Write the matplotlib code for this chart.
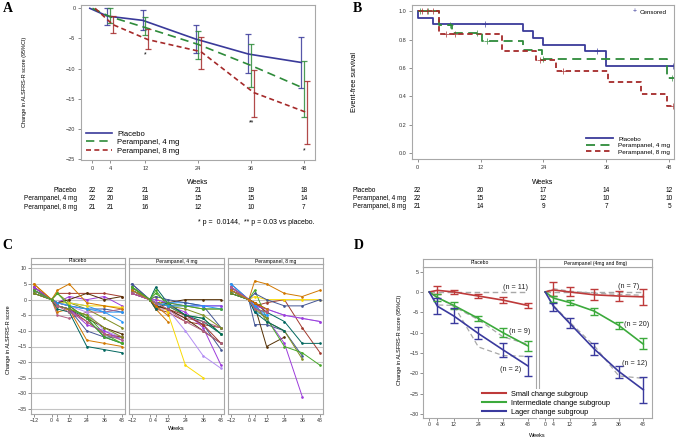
import numpy as np
import matplotlib
matplotlib.use('Agg')
import matplotlib.pyplot as plt
from matplotlib.lines import Line2D
from matplotlib.transforms import blended_transform_factory

plt.rcParams['font.family'] = ['Liberation Sans', 'DejaVu Sans']

W, H = 676, 441
nan = np.nan

# ---------------- Panel A: mean change with 95% CI ----------------
weeks_a = [0, 4, 12, 24, 36, 48]
pbo_mean = [0, -1.3, -2.0, -5.1, -7.6, -9.0]
pbo_hi = [0, 0.0, -0.3, -2.8, -4.3, -4.8]
pbo_lo = [0, -2.7, -3.6, -7.4, -10.8, -13.2]
mg4_mean = [0, -1.4, -3.2, -6.0, -9.5, -13.3]
mg4_hi = [0, 0.0, -1.5, -3.7, -6.0, -8.8]
mg4_lo = [0, -2.5, -4.5, -8.5, -13.1, -18.0]
mg8_mean = [0, -2.7, -5.2, -7.2, -14.0, -17.3]
mg8_hi = [0, -1.3, -3.5, -4.7, -10.2, -12.1]
mg8_lo = [0, -4.1, -6.8, -10.1, -18.1, -22.6]

stars_a = [(12, -7.7, '*'), (36, -19.1, '**'), (48, -23.7, '*')]

risk_weeks_a = [0, 4, 12, 24, 36, 48]
risk_pbo_a = [22, 22, 21, 21, 19, 18]
risk_4mg_a = [22, 20, 18, 15, 15, 14]
risk_8mg_a = [21, 21, 16, 12, 10, 7]

# ---------------- Panel B: Kaplan-Meier ----------------
km_pbo_t = [0, 0, 3, 20, 22, 24, 32, 36, 49]
km_pbo_s = [1.0, 0.955, 0.909, 0.864, 0.814, 0.764, 0.717, 0.614, 0.614]
km_4mg_t = [0, 4, 6.5, 12.2, 20, 23.7, 47.6, 49]
km_4mg_s = [1.0, 0.9, 0.85, 0.79, 0.73, 0.667, 0.533, 0.533]
km_8mg_t = [0, 4, 16, 22.6, 26.3, 36.3, 42.7, 47.6, 49]
km_8mg_s = [1.0, 0.84, 0.72, 0.655, 0.58, 0.5, 0.415, 0.333, 0.333]

cens_pbo = [(12.9, 0.909), (34.3, 0.717), (48.7, 0.614)]
cens_4mg = [(0.5, 1.0), (2.0, 1.0), (6.2, 0.9), (11.3, 0.85), (13.2, 0.79), (24.0, 0.667), (48.5, 0.533)]
cens_8mg = [(0.8, 1.0), (1.7, 1.0), (3.0, 1.0), (5.4, 0.84), (7.1, 0.84), (23.3, 0.655), (27.8, 0.58), (48.7, 0.333)]

risk_weeks_b = [0, 12, 24, 36, 48]
risk_pbo_b = [22, 20, 17, 14, 12]
risk_4mg_b = [22, 15, 12, 10, 10]
risk_8mg_b = [21, 14, 9, 7, 5]

# ---------------- Panel C: individual patients ----------------
weeks_c = [-12, 0, 4, 12, 24, 36, 48]
indiv_pbo = [
    [4, 0, -1, -2, -3, -3, -4],
    [3, 0, 2, 2, 2, 2, 1],
    [3, 0, -2, -3, -6, -12, -14],
    [2, 0, -1, -2, -6, -9, -11],
    [4, 0, -1, 1, 0, 1, -2],
    [3, 0, 2, -1, -3, -6, -9],
    [3, 0, -1, -1, -2, -4, -4],
    [2, 0, -5, -6, -4, -4, -3],
    [5, 0, -4, -3, -13, -14, -15],
    [3, 0, -2, -3, -5, -11, -14],
    [2, 0, -1, -2, -4, -10, -12],
    [2, 0, -1, -1, -2, -2, -2.5],
    [3, 0, -2, -3, -10, -12, -12],
    [4, 0, -2, -3, -7, -11, -12],
    [2, 0, -3, -4, -15, -16, -17],
    [3, 0, -1, 0, 2, 0, 1],
    [4, 0, -2, -3, -8, -10, -13],
    [2, 0, -2, -3, -5, -9, -12],
    [3, 0, -1, -2, -3, -4, -7],
    [3, 0, -2, -4, -7, -11, -13],
    [5, 0, 3, 5, -1, -2, -3],
    [3, 0, 2, -2, -6, -12, -14],
]
indiv_4mg = [
    [5, 0, -1, -2, -5, -8, -16],
    [3, 0, -3, -4, -7, -8, -9],
    [4, 0, 4, -1, -5, -7, -11],
    [2, 0, -1, -1, 0, 0, 0],
    [3, 0, -1, -2, -4, -9, -21],
    [4, 0, -1, -2, -2, -3, -3],
    [4, 0, -2, -1, -1, -2, -2],
    [2, 0, -3, -3, -6, -7, -9],
    [3, 0, -3, -7, nan, nan, nan],
    [4, 0, 3, -2, -5, -6, -11],
    [2, 0, -1, -3, -10, -18, -22],
    [3, 0, 1, -4, -21, -25, nan],
    [5, 0, 1, 0, -1, -2, -9],
    [2, 0, -2, -3, -5, -8, -14],
    [3, 0, -3, -1, -5, -6, -11],
    [3, 0, -2, -3, -6, -10, -14],
    [2, 0, 0, -1, -2, -2, -2],
    [4, 0, -1, -2, -3, -5, -9],
    [3, 0, -1, -2, -2, -2, -3],
    [2, 0, -1, -3, -7, -10, -14],
    [3, 0, -2, -5, nan, nan, nan],
    [4, 0, 2, -1, -2, -3, -3],
]
indiv_8mg = [
    [5, 0, -8, -8, -10, -18, nan],
    [4, 0, -2, -1, 0, -9, -17],
    [2, 0, -3, -4, -7, -14, -14],
    [3, 0, -2, -15, -12, nan, nan],
    [4, 0, -2, -6, -14, -31, nan],
    [3, 0, -1, -7, -10, -19, nan],
    [5, 0, -4, -5, nan, nan, nan],
    [3, 0, -1, -4, nan, nan, nan],
    [3, 0, 6, 5, 2, 1, 3],
    [2, 0, 3, -6, -15, -17, -21],
    [4, 0, -2, -3, -5, -6, -7],
    [3, 0, 1, 0, 0, 0, 0],
    [4, 0, 2, 0, -2, -2, 0],
    [3, 0, -1, -4, nan, nan, nan],
    [2, 0, -4, -7, -10, nan, nan],
    [3, 0, -1, -3, nan, nan, nan],
    [4, 0, -2, -3, -5, -6, -7],
    [2, 0, -3, -6, nan, nan, nan],
    [3, 0, -2, -5, nan, nan, nan],
    [4, 0, -3, -4, nan, nan, nan],
    [3, 0, -1, -3, nan, nan, nan],
]
c_titles = ['Placebo', 'Perampanel, 4 mg', 'Perampanel, 8 mg']
sas_colors = ['#445694', '#A23A2E', '#01665E', '#543005', '#9D3CDB', '#7F8E1F',
              '#2597FA', '#B26084', '#D17800', '#47A82A', '#B38EF3', '#F9DA04']

# ---------------- Panel D: subgroups ----------------
weeks_d = [0, 4, 12, 24, 36, 48]
d_titles = ['Placebo', 'Perampanel (4mg and 8mg)']
# Placebo facet
dp_small = [0, 0.4, 0.0, -1.0, -2.0, -3.3]
dp_small_hi = [0, 1.5, 0.6, -0.5, -1.35, -2.6]
dp_small_lo = [0, -0.6, -0.5, -1.6, -2.65, -4.0]
dp_mid = [0, -1.4, -3.3, -6.5, -10.0, -13.2]
dp_mid_hi = [0, -0.6, -2.4, -5.8, -8.9, -12.0]
dp_mid_lo = [0, -2.2, -4.2, -7.2, -11.0, -14.5]
dp_big = [0, -3.5, -5.9, -10.2, -14.2, -18.1]
dp_big_hi = [0, -1.4, -4.0, -8.7, -12.5, -15.7]
dp_big_lo = [0, -5.5, -7.7, -11.6, -15.9, -20.6]
dp_obs_mid = [0, -1.2, -3.6, -6.8, -11.0, -12.8]
dp_obs_big = [0, -3.2, -3.3, -13.5, -15.6, -15.8]
# Perampanel facet
dq_small = [0, 0.5, 0.0, -0.7, -1.0, -1.2]
dq_small_hi = [0, 2.5, 1.1, 0.7, 0.2, 0.7]
dq_small_lo = [0, -0.9, -1.0, -2.0, -2.2, -3.2]
dq_mid = [0, -1.5, -2.6, -4.7, -8.2, -12.8]
dq_mid_hi = [0, -0.9, -2.0, -3.9, -7.3, -11.2]
dq_mid_lo = [0, -2.4, -3.1, -5.7, -9.1, -13.9]
dq_big = [0, -3.5, -7.7, -14.0, -19.5, -24.0]
dq_big_hi = [0, -2.6, -6.5, -12.6, -18.1, -20.8]
dq_big_lo = [0, -4.6, -8.9, -15.5, -21.0, -27.3]
dq_obs_small = [0, 0.8, 0.2, -0.3, -0.6, -0.8]
dq_obs_big = [0, -3.3, -7.4, -13.2, -20.6, -21.2]
n_labels = [[(42, 1.2, '(n = 11)'), (43.9, -9.6, '(n = 9)'), (39.8, -19.0, '(n = 2)')],
            [(41, 1.35, '(n = 7)'), (44.7, -8.0, '(n = 20)'), (43.6, -17.5, '(n = 12)')]]


def box(x0, y0, x1, y1):
    return [x0 / W, 1 - y1 / H, (x1 - x0) / W, (y1 - y0) / H]


def style(ax, fs=4):
    for s in ax.spines.values():
        s.set_color('#A8A8A8')
        s.set_linewidth(0.8)
    ax.tick_params(length=2.5, width=0.6, color='#808080', labelsize=fs, pad=1.5,
                   labelcolor='#333333')


fig = plt.figure(figsize=(6.76, 4.41), dpi=100)

BLUE, GREEN, RED = '#3A3A9A', '#2E8B3A', '#A52A2A'

# ===== A =====
axA = fig.add_axes(box(81, 5, 315, 160))
style(axA)
axA.set_xlim(-2.6, 50.5)
axA.set_ylim(-25.2, 0.55)
axA.set_xticks(weeks_a)
axA.set_yticks([0, -5, -10, -15, -20, -25])
groups_a = [
    ('Placebo', pbo_mean, pbo_hi, pbo_lo, BLUE, '-', -0.6),
    ('Perampanel, 4 mg', mg4_mean, mg4_hi, mg4_lo, GREEN, (0, (5, 3)), 0.0),
    ('Perampanel, 8 mg', mg8_mean, mg8_hi, mg8_lo, RED, (0, (3, 2)), 0.6),
]
for lab, m, hi, lo, c, ls, off in groups_a:
    x = np.array(weeks_a) + off
    m = np.array(m); hi = np.array(hi); lo = np.array(lo)
    axA.plot(x, m, color=c, ls=ls, lw=1.2, label=lab)
    axA.errorbar(x[1:], m[1:], yerr=[m[1:] - lo[1:], hi[1:] - m[1:]], fmt='none',
                 ecolor=c, elinewidth=0.9, capsize=2.4, capthick=0.9, alpha=0.85)
for xw, yv, s in stars_a:
    axA.text(xw, yv, s, ha='center', va='center', fontsize=5)
axA.legend(loc='lower left', bbox_to_anchor=(0.0, 0.0), frameon=False, fontsize=5.5,
           handlelength=3.4, labelspacing=0.15, borderaxespad=0.3, handletextpad=0.6)

fig.text(25 / W, 1 - 82 / H, 'Change in ALSFRS-R score (95%CI)', rotation=90,
         ha='center', va='center', fontsize=4)
fig.text(198 / W, 1 - 182 / H, 'Weeks', ha='center', va='center', fontsize=5)
trA = blended_transform_factory(axA.transData, fig.transFigure)
for i, (lab, row) in enumerate([('Placebo', risk_pbo_a), ('Perampanel, 4 mg', risk_4mg_a),
                                 ('Perampanel, 8 mg', risk_8mg_a)]):
    yy = 1 - (191 + 8 * i) / H
    fig.text(77 / W, yy, lab, ha='right', va='center', fontsize=4.7)
    for w, n in zip(risk_weeks_a, row):
        axA.text(w, yy, str(n), transform=trA, ha='center', va='center', fontsize=4.7)
fig.text(315 / W, 1 - 222 / H, '* p =  0.0144,  ** p = 0.03 vs placebo.', ha='right',
         va='center', fontsize=5)

# ===== B =====
axB = fig.add_axes(box(411.7, 5, 674.5, 159))
style(axB)
axB.set_xlim(-1.15, 49)
axB.set_ylim(-0.04, 1.044)
axB.set_xticks(risk_weeks_b)
axB.set_yticks([0, 0.2, 0.4, 0.6, 0.8, 1.0])
axB.set_yticklabels(['0.0', '0.2', '0.4', '0.6', '0.8', '1.0'])
axB.step(km_pbo_t, km_pbo_s, where='post', color=BLUE, lw=1.3, label='Placebo')
axB.step(km_4mg_t, km_4mg_s, where='post', color=GREEN, lw=1.3, ls=(0, (5, 3)),
         label='Perampanel, 4 mg')
axB.step(km_8mg_t, km_8mg_s, where='post', color=RED, lw=1.3, ls=(0, (3, 2)),
         label='Perampanel, 8 mg')
for pts, c in [(cens_pbo, BLUE), (cens_4mg, GREEN), (cens_8mg, RED)]:
    axB.plot([p[0] for p in pts], [p[1] for p in pts], '+', color=c, ms=4, mew=0.6, alpha=0.8)
hB, lB = axB.get_legend_handles_labels()
axB.legend(hB, lB, loc='lower right', frameon=False, fontsize=4.6, handlelength=4.2,
           labelspacing=0.15, borderaxespad=0.3, handletextpad=0.8)
fig.text(635 / W, 1 - 12 / H, '+', color=BLUE, ha='center', va='center', fontsize=5)
fig.text(640 / W, 1 - 12 / H, 'Censored', ha='left', va='center', fontsize=4.5)
fig.text(355 / W, 1 - 82 / H, 'Event-free survival', rotation=90, ha='center',
         va='center', fontsize=5.2)
fig.text(543 / W, 1 - 182 / H, 'Weeks', ha='center', va='center', fontsize=5)
trB = blended_transform_factory(axB.transData, fig.transFigure)
for i, (lab, row) in enumerate([('Placebo', risk_pbo_b), ('Perampanel, 4 mg', risk_4mg_b),
                                 ('Perampanel, 8 mg', risk_8mg_b)]):
    yy = 1 - (190.5 + 8 * i) / H
    fig.text(353 / W, yy, lab, ha='left', va='center', fontsize=4.7)
    for w, n in zip(risk_weeks_b, row):
        axB.text(w, yy, str(n), transform=trB, ha='center', va='center', fontsize=4.7)

# ===== C =====
c_x = [(31, 125), (129, 224), (228, 323)]
for k, (data, title, (x0, x1)) in enumerate(zip([indiv_pbo, indiv_4mg, indiv_8mg], c_titles, c_x)):
    ax = fig.add_axes(box(x0, 264, x1, 414))
    style(ax, fs=3.8)
    ax.set_xlim(-14, 50)
    ax.set_ylim(-36.6, 11.4)
    for g in range(-35, 11, 5):
        ax.axhline(g, color='#C4C4C4', lw=0.8, zorder=0)
    for i, vals in enumerate(data):
        ax.plot(weeks_c, vals, color=sas_colors[i % 12], lw=0.7, marker='o', ms=0.9)
    ax.set_xticks(weeks_c)
    ax.set_yticks(list(range(10, -36, -5)))
    ax.tick_params(length=2, pad=1)
    if k > 0:
        ax.tick_params(axis='y', left=False, labelleft=False)
    hx = fig.add_axes(box(x0, 258, x1, 264))
    hx.set_xticks([]); hx.set_yticks([])
    for s in hx.spines.values():
        s.set_color('#A8A8A8'); s.set_linewidth(0.8)
    hx.text(0.5, 0.5, title, ha='center', va='center', fontsize=3.6, transform=hx.transAxes)
fig.text(9 / W, 1 - 340 / H, 'Change in ALSFRS-R score', rotation=90, ha='center',
         va='center', fontsize=4)
fig.text(176 / W, 1 - 428.5 / H, 'Weeks', ha='center', va='center', fontsize=4)

# ===== D =====
RD, GR, BL = '#BE3A3A', '#3CAA3C', '#3A3A9E'
d_x = [(423.3, 536), (539.3, 651.7)]
d_sets = [
    [(dp_small, dp_small_hi, dp_small_lo, RD), (dp_mid, dp_mid_hi, dp_mid_lo, GR),
     (dp_big, dp_big_hi, dp_big_lo, BL)],
    [(dq_small, dq_small_hi, dq_small_lo, RD), (dq_mid, dq_mid_hi, dq_mid_lo, GR),
     (dq_big, dq_big_hi, dq_big_lo, BL)],
]
d_obs = [[dp_obs_mid, dp_obs_big], [dq_obs_small, dq_obs_big]]
for k, (title, (x0, x1)) in enumerate(zip(d_titles, d_x)):
    ax = fig.add_axes(box(x0, 266.7, x1, 418.3))
    style(ax, fs=3.8)
    ax.set_xlim(-2.9, 52.1)
    ax.set_ylim(-31, 6.2)
    ax.set_xticks(weeks_d)
    ax.set_yticks([5, 0, -5, -10, -15, -20, -25, -30])
    ax.tick_params(length=2, pad=1)
    if k > 0:
        ax.tick_params(axis='y', left=False, labelleft=False)
    ax.plot([0, 48], [0, 0], color='#A8A8A8', lw=1.0, ls=(0, (4, 2.5)), zorder=1)
    for obs in d_obs[k]:
        ax.plot(weeks_d, obs, color='#A8A8A8', lw=0.9, ls=(0, (4, 2.5)), zorder=1)
    for m, hi, lo, c in d_sets[k]:
        m = np.array(m); hi = np.array(hi); lo = np.array(lo)
        ax.plot(weeks_d, m, color=c, lw=1.2, zorder=2)
        ax.errorbar(weeks_d[1:], m[1:], yerr=[m[1:] - lo[1:], hi[1:] - m[1:]], fmt='none',
                    ecolor=c, elinewidth=1.0, capsize=2.6, capthick=1.0, zorder=3)
    for xw, yv, s in n_labels[k]:
        ax.text(xw, yv, s, ha='center', va='center', fontsize=5.2, color='#222222')
    hx = fig.add_axes(box(x0, 259.3, x1, 266.7))
    hx.set_xticks([]); hx.set_yticks([])
    for s in hx.spines.values():
        s.set_color('#A8A8A8'); s.set_linewidth(0.8)
    hx.text(0.5, 0.5, title, ha='center', va='center', fontsize=3.6, transform=hx.transAxes)

d_handles = [Line2D([], [], color=RD, lw=1.5), Line2D([], [], color=GR, lw=1.5),
             Line2D([], [], color=BL, lw=1.5)]
d_labels = ['Small change subgroup', 'Intermediate change subgroup', 'Lager change subgroup']
leg = fig.legend(d_handles, d_labels, loc='upper left', bbox_to_anchor=(476 / W, 1 - 385 / H),
                 frameon=True, facecolor='white', edgecolor='none', framealpha=1,
                 fontsize=5.3, handlelength=3.3, labelspacing=0.25, borderpad=0.3,
                 handletextpad=0.7)
fig.text(400 / W, 1 - 340 / H, 'Change in ALSFRS-R score (95%CI)', rotation=90,
         ha='center', va='center', fontsize=4)
fig.text(537 / W, 1 - 435.7 / H, 'Weeks', ha='center', va='center', fontsize=4)

# panel letters
for letter, px, py in [('A', 8, 9), ('B', 357, 9), ('C', 7, 246), ('D', 359, 246)]:
    fig.text(px / W, 1 - py / H, letter, ha='center', va='center', fontsize=10,
             fontweight='bold', family='Liberation Serif')

fig.savefig('out.png', dpi=100)
